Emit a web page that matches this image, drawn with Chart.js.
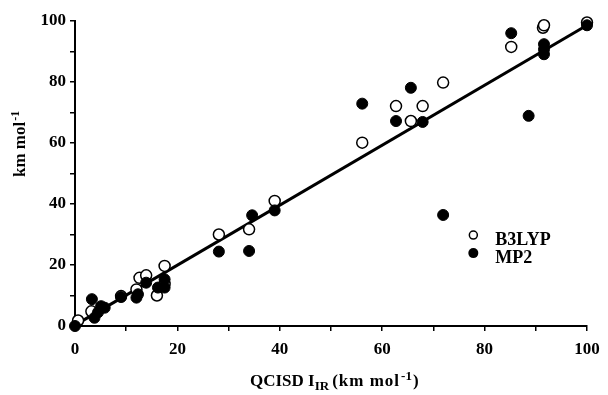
<!DOCTYPE html>
<html>
<head>
<meta charset="utf-8">
<script src="https://cdn.jsdelivr.net/npm/chart.js@4"></script>
<style>
  body { margin: 0; background: #fff; }
  #wrap { width: 608px; height: 395px; }
</style>
</head>
<body>
<div id="wrap"><canvas id="myChart" width="608" height="395"></canvas></div>
<script>
// QCISD intensity vs computed intensity (km mol-1)
const b3lypX = [0.6, 3.2, 9, 12, 12.6, 13.9, 16, 17.5, 17.5, 28.1, 34, 39, 56.1, 62.7, 65.6, 67.9, 71.9, 85.2, 91.4, 91.6, 100];
const b3lypY = [1.8, 4.8, 9.8, 12, 15.8, 16.6, 10, 13.8, 19.7, 30, 31.7, 41, 60.1, 72.1, 67.2, 72.1, 79.8, 91.5, 97.8, 98.6, 99.5];

const mp2X = [0, 3.3, 3.8, 4.5, 5.1, 5.8, 9, 12, 12.3, 13.9, 16.2, 17.5, 17.5, 28.1, 34, 34.6, 39, 56.1, 62.7, 65.6, 67.9, 71.9, 85.2, 88.6, 91.6, 91.6, 91.6, 100];
const mp2Y = [0, 8.8, 2.7, 4.5, 6.5, 6, 9.5, 9.3, 10.4, 14.2, 12.6, 12.6, 15.3, 24.4, 24.6, 36.3, 37.9, 72.9, 67.2, 78.1, 66.9, 36.4, 96, 68.9, 92.4, 90.7, 89.1, 98.6];

const fitX = [0, 100];
const fitY = [0.3, 98.6];

const xTicks = [0, 20, 40, 60, 80, 100];
const yTicks = [0, 20, 40, 60, 80, 100];

function toPoints(xs, ys) {
    return xs.map((x, i) => ({ x: x, y: ys[i] }));
}

const SERIF = '"Liberation Serif", "Times New Roman", serif';

// axis titles with sub/superscripts and the little legend
const extras = {
    id: 'extras',
    afterDraw(chart) {
        const ctx = chart.ctx;
        ctx.save();
        ctx.fillStyle = '#000';
        ctx.textBaseline = 'alphabetic';
        ctx.textAlign = 'left';

        // x title: QCISD I_IR (km mol^-1)
        let x = 250;
        const base = 386;
        const parts = [
            ['QCISD I', 17, 0, 0],
            ['IR', 13, 4, 3],
            ['(km mol', 17, 0, 1],
            ['-1', 13, -6, 1],
            [')', 17, 0, 0]
        ];
        parts.forEach(p => {
            ctx.font = 'bold ' + p[1] + 'px ' + SERIF;
            ctx.letterSpacing = p[0] === '(km mol' ? '1px' : '0px';
            ctx.fillText(p[0], x, base + p[2]);
            x += ctx.measureText(p[0]).width + p[3];
        });
        ctx.letterSpacing = '0px';

        // y title: km mol^-1, rotated
        ctx.save();
        ctx.translate(25, 177);
        ctx.rotate(-Math.PI / 2);
        ctx.font = 'bold 17px ' + SERIF;
        ctx.fillText('km mol', 0, 0);
        const w = ctx.measureText('km mol').width;
        ctx.font = 'bold 12px ' + SERIF;
        ctx.fillText('-1', w + 1, -6);
        ctx.restore();

        // legend
        const xs = chart.scales.x, ys = chart.scales.y;
        const lx = xs.getPixelForValue(77.8);
        const ly1 = ys.getPixelForValue(29.8);
        const ly2 = ys.getPixelForValue(23.9);
        ctx.lineWidth = 1.5;
        ctx.strokeStyle = '#000';
        ctx.fillStyle = '#fff';
        ctx.beginPath();
        ctx.arc(lx, ly1, 4, 0, Math.PI * 2);
        ctx.fill();
        ctx.stroke();
        ctx.fillStyle = '#000';
        ctx.beginPath();
        ctx.arc(lx, ly2, 5, 0, Math.PI * 2);
        ctx.fill();
        ctx.font = 'bold 18px ' + SERIF;
        ctx.fillText('B3LYP', lx + 22, ly1 + 10);
        ctx.fillText('MP2', lx + 22, ly2 + 10);
        ctx.restore();
    }
};

const ctx = document.getElementById('myChart').getContext('2d');
const myChart = new Chart(ctx, {
    type: 'scatter',
    data: {
        datasets: [
            {
                type: 'line',
                label: 'fit',
                data: toPoints(fitX, fitY),
                borderColor: '#000',
                borderWidth: 3,
                pointRadius: 0,
                fill: false,
                order: 3
            },
            {
                label: 'B3LYP',
                data: toPoints(b3lypX, b3lypY),
                pointRadius: 5.5,
                pointBackgroundColor: '#fff',
                pointBorderColor: '#000',
                pointBorderWidth: 1.5,
                order: 2
            },
            {
                label: 'MP2',
                data: toPoints(mp2X, mp2Y),
                pointRadius: 5.5,
                pointBackgroundColor: '#000',
                pointBorderColor: '#000',
                pointBorderWidth: 1,
                order: 1
            }
        ]
    },
    options: {
        responsive: false,
        animation: false,
        clip: false,
        layout: { padding: { left: 0, right: 21, top: 21, bottom: 0 } },
        plugins: {
            legend: { display: false },
            tooltip: { enabled: false }
        },
        scales: {
            x: {
                type: 'linear',
                min: 0,
                max: 100,
                afterFit: s => { s.height = 69; },
                border: { display: true, color: '#000', width: 2 },
                grid: { display: true, drawOnChartArea: false, drawTicks: true, tickLength: 5, color: '#000', lineWidth: 1.5 },
                ticks: {
                    stepSize: 10,
                    autoSkip: false,
                    maxRotation: 0,
                    padding: 8,
                    color: '#000',
                    font: { family: SERIF, size: 17, weight: 'bold' },
                    callback: v => xTicks.includes(v) ? String(v) : ''
                }
            },
            y: {
                type: 'linear',
                min: 0,
                max: 100,
                afterFit: s => { s.width = 75; },
                border: { display: true, color: '#000', width: 2 },
                grid: { display: true, drawOnChartArea: false, drawTicks: true, tickLength: 5, color: '#000', lineWidth: 1.5 },
                ticks: {
                    stepSize: 10,
                    autoSkip: false,
                    padding: 4,
                    color: '#000',
                    font: { family: SERIF, size: 17, weight: 'bold' },
                    callback: v => yTicks.includes(v) ? String(v) : ''
                }
            }
        }
    },
    plugins: [extras]
});
</script>
</body>
</html>
